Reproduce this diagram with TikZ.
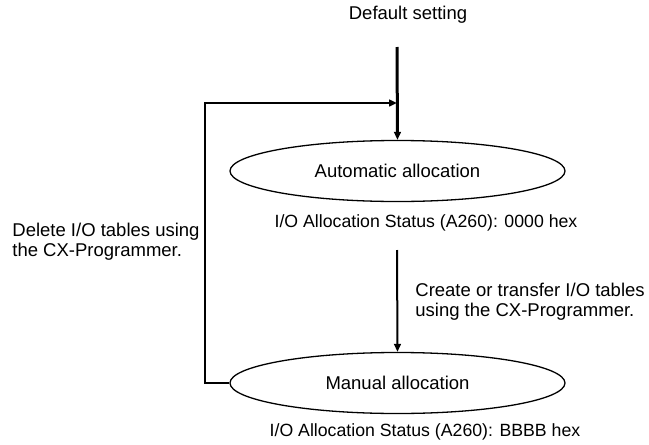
\documentclass[tikz,border=0pt]{standalone}
\usepackage{fontspec}
\setmainfont{Liberation Sans}
\usetikzlibrary{arrows.meta,shapes.geometric}

\begin{document}
\begin{tikzpicture}[
  >={Triangle[length=4pt,width=3.4pt]},
  x=0.5pt, y=-0.5pt,
  txt/.style={font=\fontsize{9.25}{10}\selectfont, inner sep=0pt},
  stat/.style={font=\fontsize{8.85}{10}\selectfont, inner sep=0pt},
  state/.style={
    ellipse,
    draw=black,
    line width=0.65pt,
    minimum width=167.5pt,
    minimum height=30.5pt,
    inner sep=0pt
  }
]
  \useasboundingbox (0,0) rectangle (649,445);
  \node[txt] (default) at (408,15) {Default setting};
  \node[state, txt] (auto) at (397.5,171) {Automatic allocation};
  \node[stat] (autostat) at (426,223) {I/O Allocation Status (A260): 0000 hex};
  \node[state, txt] (manual) at (397.5,383) {Manual allocation};
  \node[stat] (manualstat) at (425,432) {I/O Allocation Status (A260): BBBB hex};
  \node[txt, align=left, anchor=west] (deletelbl) at (12,242)
    {Delete I/O tables using\\the CX-Programmer.};
  \node[txt, align=left, anchor=west] (createlbl) at (415,302)
    {Create or transfer I/O tables\\using the CX-Programmer.};
  \coordinate (toptail) at (397,47);
  \coordinate (midtop) at (397,250);
  \coordinate (loopbl) at (205,383);
  \coordinate (looptl) at (205,103);
  \coordinate (join) at (397,103);
  \draw[->, line width=1.5pt] (toptail) -- (auto.north);
  \draw[->, line width=1pt] (midtop) -- (manual.north);
  \draw[->, line width=1.2pt] (manual.west) -- (loopbl) -- (looptl) -- (join);
\end{tikzpicture}
\end{document}
